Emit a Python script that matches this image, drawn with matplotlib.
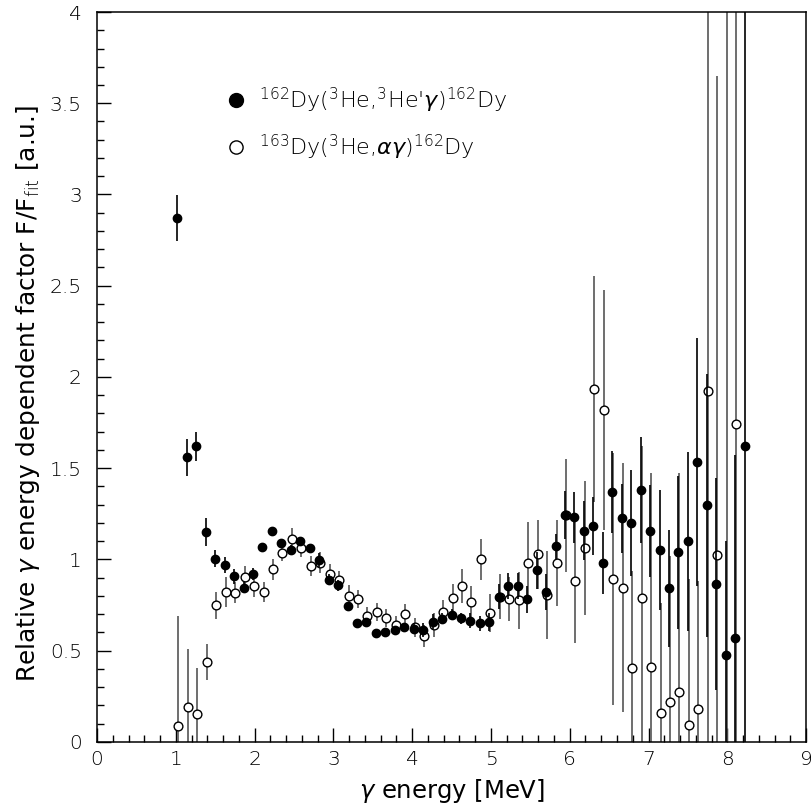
import matplotlib
matplotlib.use("Agg")
import matplotlib.pyplot as plt
from matplotlib.lines import Line2D
from matplotlib.ticker import MultipleLocator, FuncFormatter
import numpy as np

# gamma energy bins [MeV]
energy = [1.02, 1.14, 1.26, 1.38, 1.50, 1.62, 1.74, 1.86, 1.98, 2.10,
          2.22, 2.34, 2.46, 2.58, 2.70, 2.82, 2.94, 3.06, 3.18, 3.30,
          3.42, 3.54, 3.66, 3.78, 3.90, 4.02, 4.14, 4.26, 4.38, 4.50,
          4.62, 4.74, 4.86, 4.98, 5.10, 5.22, 5.34, 5.46, 5.58, 5.70,
          5.82, 5.94, 6.06, 6.18, 6.30, 6.42, 6.54, 6.66, 6.78, 6.90,
          7.02, 7.14, 7.26, 7.38, 7.50, 7.62, 7.74, 7.86, 7.98, 8.10,
          8.22]

# 162Dy(3He,3He'g)162Dy  (filled)
f_he3 = [2.87, 1.56, 1.62, 1.15, 1.005, 0.97, 0.908, 0.845, 0.921, 1.068,
         1.156, 1.092, 1.052, 1.103, 1.062, 0.997, 0.89, 0.858, 0.747, 0.652,
         0.659, 0.597, 0.601, 0.612, 0.628, 0.621, 0.614, 0.659, 0.676, 0.696,
         0.678, 0.665, 0.650, 0.658, 0.796, 0.855, 0.855, 0.782, 0.940, 0.823,
         1.072, 1.244, 1.231, 1.158, 1.184, 0.981, 1.370, 1.226, 1.202, 1.383,
         1.156, 1.053, 0.843, 1.040, 1.100, 1.533, 1.296, 0.864, 0.474, 0.570,
         1.623]
f_he3_err = [0.125, 0.10, 0.08, 0.077, 0.047, 0.043, 0.04, 0.03, 0.035, 0.02,
             0.02, 0.02, 0.03, 0.02, 0.02, 0.04, 0.03, 0.03, 0.02, 0.01,
             0.02, 0.01, 0.01, 0.02, 0.02, 0.03, 0.04, 0.04, 0.03, 0.03,
             0.03, 0.04, 0.04, 0.05, 0.07, 0.07, 0.07, 0.075, 0.10, 0.10,
             0.07, 0.13, 0.14, 0.16, 0.16, 0.17, 0.226, 0.19, 0.29, 0.29,
             0.25, 0.33, 0.32, 0.42, 0.49, 0.68, 0.72, 0.58, 0.63, 1.0,
             2.5]

# 163Dy(3He,ag)162Dy  (open)
f_alpha = [0.089, 0.192, 0.153, 0.438, 0.749, 0.822, 0.818, 0.902, 0.855, 0.822,
           0.946, 1.037, 1.111, 1.065, 0.964, 0.982, 0.919, 0.889, 0.800, 0.782,
           0.692, 0.712, 0.681, 0.643, 0.703, 0.628, 0.582, 0.643, 0.712, 0.787,
           0.855, 0.767, 1.001, 0.708, 0.795, 0.784, 0.776, 0.982, 1.028, 0.807,
           0.981, 1.242, 0.880, 1.063, 1.933, 1.819, 0.895, 0.846, 0.405, 0.791,
           0.413, 0.159, 0.221, 0.273, 0.094, 0.182, 1.922, 1.022, -0.3, 1.74,
           np.nan]
f_alpha_err = [0.6, 0.32, 0.25, 0.10, 0.074, 0.083, 0.059, 0.063, 0.06, 0.057,
               0.058, 0.045, 0.06, 0.053, 0.057, 0.057, 0.055, 0.05, 0.06, 0.05,
               0.045, 0.05, 0.05, 0.05, 0.055, 0.05, 0.06, 0.065, 0.065, 0.08,
               0.095, 0.09, 0.113, 0.105, 0.123, 0.12, 0.155, 0.225, 0.19, 0.24,
               0.237, 0.31, 0.34, 0.365, 0.62, 0.66, 0.69, 0.68, 0.53, 0.83,
               1.06, 0.6, 0.8, 1.2, 0.8, 0.7, 2.2, 2.63, 4.5, 2.4,
               np.nan]

plt.rcParams['font.family'] = ['DejaVu Sans']
plt.rcParams['font.weight'] = 'light'
plt.rcParams['mathtext.fontset'] = 'custom'
plt.rcParams['mathtext.rm'] = 'DejaVu Sans:light'
plt.rcParams['mathtext.it'] = 'DejaVu Sans:italic:light'

fig = plt.figure(figsize=(8.12, 8.11), dpi=100)
ax = fig.add_axes([0.1195, 0.0851, 0.8732, 0.9001])

ax.errorbar(np.array(energy) + 0.013, f_alpha, yerr=f_alpha_err, fmt='o', ms=6.3,
            mfc='white', mec='black', mew=1.0, ecolor='#555555',
            elinewidth=1.2, capsize=0, zorder=2)
ax.errorbar(energy, f_he3, yerr=f_he3_err, fmt='o', ms=6, color='black',
            ecolor='black', elinewidth=1.2, capsize=0, zorder=3)

ax.set_xlim(0, 9)
ax.set_ylim(0, 4)
ax.xaxis.set_major_locator(MultipleLocator(1))
ax.xaxis.set_minor_locator(MultipleLocator(0.2))
ax.yaxis.set_major_locator(MultipleLocator(0.5))
ax.yaxis.set_minor_locator(MultipleLocator(0.1))
ax.yaxis.set_major_formatter(FuncFormatter(lambda v, p: '%g' % v))
ax.tick_params(which='both', direction='in', top=False, right=False, width=1)
ax.tick_params(which='major', length=10, labelsize=14.5)
ax.tick_params(axis='y', which='major', pad=11)
ax.tick_params(axis='x', which='major', pad=6)
ax.tick_params(which='minor', length=5)
for s in ax.spines.values():
    s.set_linewidth(1.1)

ax.set_xlabel(r"$\gamma$ energy [MeV]", fontsize=17.5)
ax.set_ylabel(r"Relative $\gamma$ energy dependent factor F/F$_{\rm fit}$ [a.u.]", fontsize=17.8)
ax.xaxis.set_label_coords(0.5, -0.048)
ax.yaxis.set_label_coords(-0.078, 0.477)

handles = [Line2D([], [], ls='none', marker='o', ms=10, color='black'),
           Line2D([], [], ls='none', marker='o', ms=9.5, mfc='white', mec='black', mew=1.0)]
labels = [r"$^{162}$Dy($^{3}$He,$^{3}$He'$\gamma$)$^{162}$Dy",
          r"$^{163}$Dy($^{3}$He,$\alpha\gamma$)$^{162}$Dy"]
ax.legend(handles, labels, loc='upper left', bbox_to_anchor=(0.181, 0.899),
          frameon=False, fontsize=16, handlelength=1.0, handletextpad=0.5,
          labelspacing=0.8, borderaxespad=0, borderpad=0)

plt.savefig("out.png", dpi=100)
